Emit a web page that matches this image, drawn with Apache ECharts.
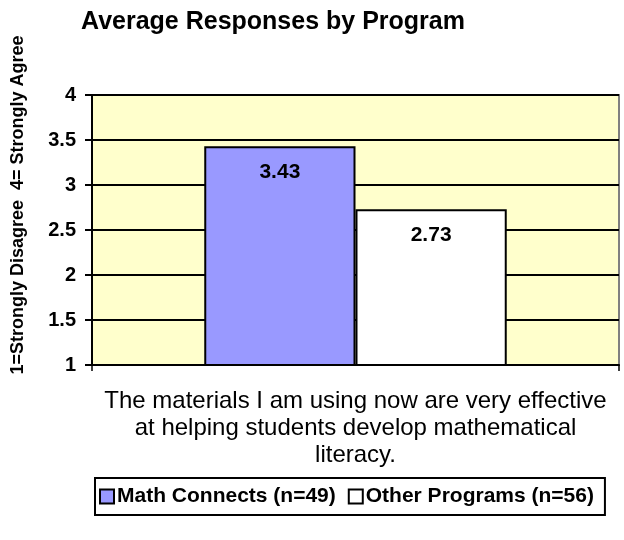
<!DOCTYPE html>
<html>
<head>
<meta charset="utf-8">
<script src="https://cdn.jsdelivr.net/npm/echarts@6/dist/echarts.min.js"></script>
<style>html,body{margin:0;padding:0;background:#fff}#c{width:624px;height:540px}</style>
</head>
<body>
<div id="c"></div>
<script>
var titleText = 'Average Responses by Program';
var yAxisTitle = '1=Strongly Disagree  4= Strongly Agree';
var categories = ['The materials I am using now are very effective\nat helping students develop mathematical\nliteracy.'];
var seriesNames = ['Math Connects (n=49)', 'Other Programs (n=56)'];
var mathConnects = [3.43];
var otherPrograms = [2.73];
var yMin = 1, yMax = 4, yStep = 0.5;

var FONT = '"Liberation Sans", Arial, sans-serif';
var chart = echarts.init(document.getElementById('c'));
chart.setOption({
  animation: false,
  textStyle: { fontFamily: FONT },
  title: {
    text: titleText,
    left: 76, top: 5,
    textStyle: { fontFamily: FONT, fontSize: 25, fontWeight: 'bold', color: '#000' }
  },
  graphic: [{
    type: 'text',
    x: 18, y: 205,
    rotation: Math.PI / 2,
    style: {
      text: yAxisTitle,
      font: 'bold 18px ' + FONT,
      fill: '#000',
      align: 'center',
      verticalAlign: 'middle'
    }
  }],
  legend: {
    left: 95, top: 478,
    data: seriesNames,
    orient: 'horizontal',
    borderColor: '#000', borderWidth: 2,
    padding: [8, 11, 8, 4],
    itemGap: 12,
    itemWidth: 14, itemHeight: 14,
    icon: 'rect',
    textStyle: { fontFamily: FONT, fontSize: 21, fontWeight: 'bold', color: '#000', padding: [0, 0, 0, -2] }
  },
  grid: {
    left: 92, right: 5, top: 95, bottom: 175,
    show: true, backgroundColor: '#FFFFCC', borderColor: '#808080', borderWidth: 2
  },
  xAxis: {
    type: 'category',
    data: categories,
    axisLine: { lineStyle: { color: '#000', width: 2 } },
    axisTick: { show: true, length: 6, lineStyle: { color: '#000', width: 1.5 } },
    axisLabel: { interval: 0, margin: 23, fontFamily: FONT, fontSize: 24, color: '#000', lineHeight: 27, align: 'center' }
  },
  yAxis: {
    type: 'value',
    min: yMin, max: yMax, interval: yStep,
    axisLine: { show: true, lineStyle: { color: '#000', width: 2 } },
    axisTick: { show: true, length: 7, lineStyle: { color: '#000', width: 2 } },
    axisLabel: { margin: 16, fontFamily: FONT, fontSize: 20, fontWeight: 'bold', color: '#000' },
    splitLine: { show: true, lineStyle: { color: '#000', width: 2 } }
  },
  series: [{
    name: seriesNames[0],
    type: 'bar',
    data: mathConnects,
    barGap: '0%',
    barCategoryGap: '42.6%',
    itemStyle: { color: '#9999FF', borderColor: '#000', borderWidth: 2 },
    label: { show: true, position: 'insideTop', distance: 15, formatter: function (p) { return p.value.toFixed(2); },
      fontFamily: FONT, fontSize: 21, fontWeight: 'bold', color: '#000' }
  }, {
    name: seriesNames[1],
    type: 'bar',
    data: otherPrograms,
    itemStyle: { color: '#FFFFFF', borderColor: '#000', borderWidth: 2 },
    label: { show: true, position: 'insideTop', distance: 15, formatter: function (p) { return p.value.toFixed(2); },
      fontFamily: FONT, fontSize: 21, fontWeight: 'bold', color: '#000' }
  }]
});
</script>
</body>
</html>
